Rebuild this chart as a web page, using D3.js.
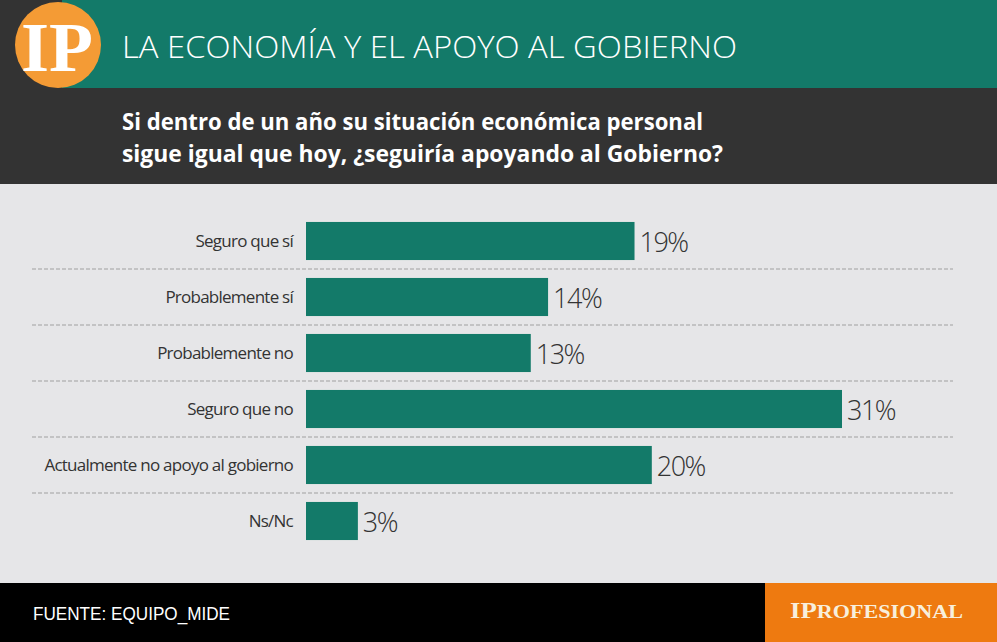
<!DOCTYPE html>
<html><head><meta charset="utf-8">
<script src="https://cdn.jsdelivr.net/npm/d3@7"></script>
<style>body{margin:0;padding:0;overflow:hidden;background:#e6e6e8}</style>
</head><body>
<svg id="c" width="997" height="642"></svg>
<script>
const categories = ["Seguro que sí","Probablemente sí","Probablemente no","Seguro que no","Actualmente no apoyo al gobierno","Ns/Nc"];
const values = [19,14,13,31,20,3];
const valueLabels = ["19%","14%","13%","31%","20%","3%"];
const title = "LA ECONOMÍA Y EL APOYO AL GOBIERNO";
const subtitle = ["Si dentro de un año su situación económica personal","sigue igual que hoy, ¿seguiría apoyando al Gobierno?"];
const source = "FUENTE: EQUIPO_MIDE";

const svg = d3.select("#c");
const W = 997, H = 642;
const teal = "#137a69";

// backgrounds
svg.append("rect").attr("x",0).attr("y",0).attr("width",W).attr("height",H).attr("fill","#e6e6e8");
svg.append("rect").attr("x",0).attr("y",0).attr("width",W).attr("height",184).attr("fill","#333333");
svg.append("rect").attr("x",62).attr("y",0).attr("width",W-62).attr("height",88).attr("fill",teal);
svg.append("rect").attr("x",0).attr("y",583).attr("width",W).attr("height",59).attr("fill","#000");
svg.append("rect").attr("x",765).attr("y",583).attr("width",W-765).attr("height",59).attr("fill","#ee7a10");

// logo
svg.append("circle").attr("cx",58).attr("cy",45).attr("r",43).attr("fill","#f49b35");
svg.append("text").attr("x",57).attr("y",71).attr("text-anchor","middle")
  .attr("font-family","Liberation Serif, serif").attr("font-weight","bold").attr("font-size",70)
  .attr("fill","#fff").attr("textLength",72).attr("lengthAdjust","spacingAndGlyphs").text("IP");

// title
svg.append("text").attr("x",122).attr("y",58).attr("font-family","Open Sans, sans-serif").attr("font-weight",300)
  .attr("font-size",32).attr("fill","#fff").attr("textLength",615).attr("lengthAdjust","spacingAndGlyphs").text(title);

// subtitle
const subW = [581, 601];
subtitle.forEach((s,i)=>{
  svg.append("text").attr("x",122).attr("y",130+i*32).attr("font-family","Open Sans, sans-serif").attr("font-weight",700)
    .attr("font-size",24).attr("fill","#fff").attr("textLength",subW[i]).attr("lengthAdjust","spacingAndGlyphs").text(s);
});

// chart
const x = d3.scaleLinear().domain([0,31]).range([306,842]);
const y = d3.scaleBand().domain(categories).range([213,549]).paddingInner(0.32).paddingOuter(0.16);

const g = svg.append("g");
// dashed separators
categories.slice(0,-1).forEach((c,i)=>{
  const yy = y(c) + y.bandwidth() + (y.step()-y.bandwidth())/2;
  g.append("line").attr("x1",32).attr("x2",953).attr("y1",yy).attr("y2",yy)
    .attr("stroke","#a0a0a0").attr("stroke-width",1.2).attr("stroke-dasharray","4,2");
});

g.selectAll("rect.bar").data(values).join("rect").attr("class","bar")
  .attr("x",x(0)).attr("y",(d,i)=>y(categories[i])).attr("width",d=>x(d)-x(0))
  .attr("height",y.bandwidth()).attr("fill",teal);

g.selectAll("text.cat").data(categories).join("text").attr("class","cat")
  .attr("x",293).attr("y",d=>y(d)+y.bandwidth()/2+6).attr("text-anchor","end")
  .attr("font-family","Open Sans, sans-serif").attr("font-size",17).attr("fill","#333")
  .attr("letter-spacing","-0.75").text(d=>d);

g.selectAll("text.val").data(values).join("text").attr("class","val")
  .attr("x",d=>x(d)+5).attr("y",(d,i)=>y(categories[i])+y.bandwidth()/2+11)
  .attr("font-family","Open Sans, sans-serif").attr("font-weight",300).attr("font-size",27).attr("fill","#333")
  .attr("letter-spacing","-1.5").text((d,i)=>valueLabels[i]);

// footer
svg.append("text").attr("x",33).attr("y",620).attr("font-family","Liberation Sans Narrow, Liberation Sans, sans-serif")
  .attr("font-size",18).attr("fill","#fff").attr("textLength",197).attr("lengthAdjust","spacingAndGlyphs").text(source);
const brand = svg.append("text").attr("x",790).attr("y",618).attr("font-family","Liberation Serif, serif")
  .attr("font-weight","bold").attr("fill","#f8efdc").attr("font-size",23).attr("textLength",173).attr("lengthAdjust","spacingAndGlyphs");
brand.append("tspan").text("IP");
brand.append("tspan").attr("font-size",19).text("ROFESIONAL");
</script>
</body></html>
